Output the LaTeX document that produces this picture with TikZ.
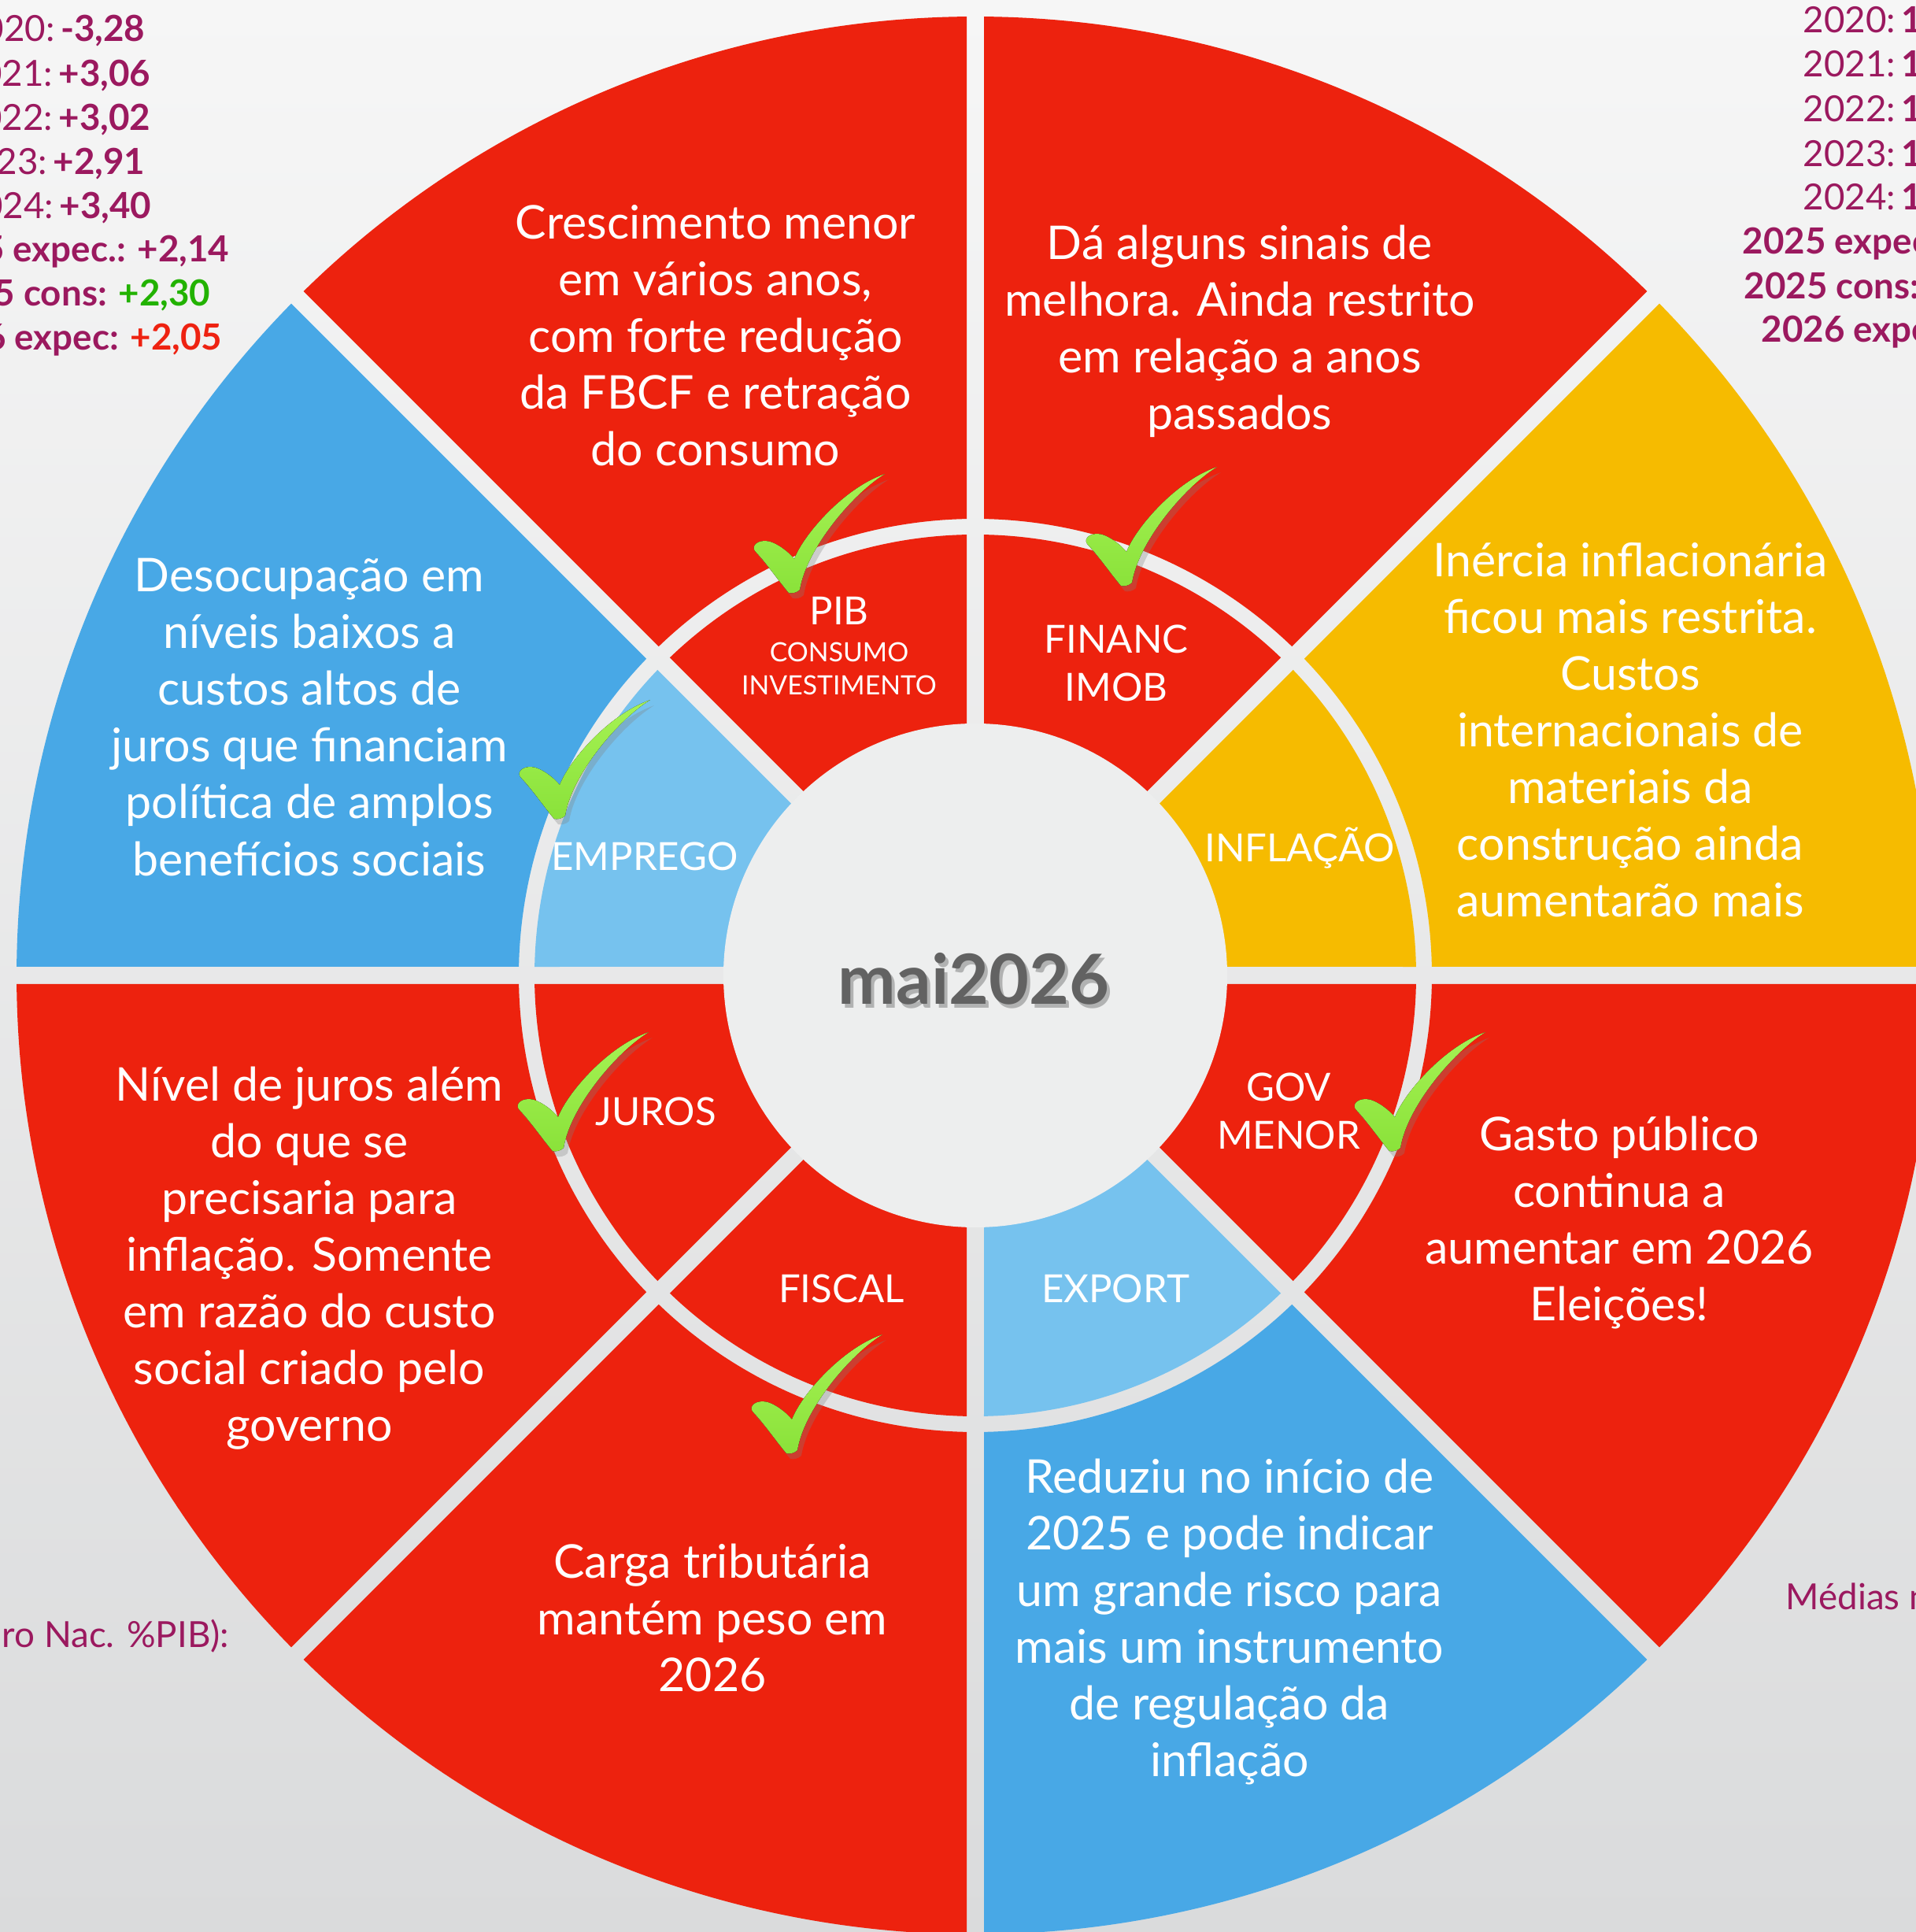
\documentclass[tikz,border=0pt]{standalone}
\usepackage{fontspec}
\setmainfont{Lato}
\usepackage{tikz}
\usetikzlibrary{shadows}
\pgfdeclarelayer{bg}
\pgfsetlayers{bg,main}

\definecolor{wheelred}{RGB}{237,34,14}
\definecolor{wheelblue}{RGB}{72,168,230}
\definecolor{wheelsky}{RGB}{118,194,238}
\definecolor{wheelyellow}{RGB}{246,187,0}
\definecolor{plum}{RGB}{155,25,95}
\definecolor{numgreen}{RGB}{34,178,0}
\definecolor{numred}{RGB}{238,34,17}
\definecolor{yeargray}{RGB}{98,98,98}
\definecolor{hubgray}{RGB}{237,238,238}
\definecolor{tickhi}{RGB}{166,242,84}
\definecolor{ticklo}{RGB}{138,226,58}

\def\halfgap{0.11}
\newcommand\wedgepart[4]{%
  \pgfmathsetmacro\angA{#1+asin(\halfgap/#3)}
  \pgfmathsetmacro\angB{#1+45-asin(\halfgap/#3)}
  \pgfmathsetmacro\angC{#1+45-asin(\halfgap/#2)}
  \pgfmathsetmacro\angD{#1+asin(\halfgap/#2)}
  \fill[#4] (\angA:#3) arc[start angle=\angA, end angle=\angB, radius=#3]
    -- (\angC:#2) arc[start angle=\angC, end angle=\angD, radius=#2] -- cycle;
}

\tikzset{
  bigtxt/.style={text=white, align=center, inner sep=0pt, font=\fontsize{16.8}{20.5}\selectfont},
  midtxt/.style={text=white, align=center, inner sep=0pt, font=\fontsize{14}{17.4}\selectfont},
  smalltxt/.style={text=white, inner sep=0pt, font=\fontsize{9.6}{12}\selectfont},
  sidetxt/.style={text=plum, inner sep=0pt, font=\fontsize{13}{16}\selectfont},
  yeartxt/.style={inner sep=0pt, font=\bfseries\fontsize{25}{30}\selectfont},
  greentick/.pic={
    \fill[x=0.01cm, y=0.01cm, top color=tickhi, bottom color=ticklo,
      drop shadow={shadow xshift=0.5mm, shadow yshift=-0.7mm, opacity=0.3}]
      (0,0) .. controls (-12,14) and (-30,40) .. (-42,52)
      .. controls (-48,58) and (-42,66) .. (-30,66)
      .. controls (-18,66) and (0,52) .. (7,43)
      .. controls (18,72) and (68,132) .. (122,151)
      .. controls (80,125) and (22,55) .. (14,4)
      .. controls (10,0) and (4,-1) .. (0,0) -- cycle;
  }
}

\begin{document}
\begin{tikzpicture}
        \useasboundingbox (0,0) rectangle (24.34,24.54);
        \begin{pgfonlayer}{bg}
                \fill[top color={rgb,255:red,246;green,246;blue,246}, middle color={rgb,255:red,226;green,227;blue,228},
                      bottom color={rgb,255:red,218;green,219;blue,220}] (0,0) rectangle (24.34,24.54);
                \begin{scope}[shift={(12.39cm,12.15cm)}]
                        \foreach \a/\cin/\cout in {0/wheelyellow/wheelyellow, 45/wheelred/wheelred,
                                90/wheelred/wheelred, 135/wheelsky/wheelblue, 180/wheelred/wheelred,
                                225/wheelred/wheelred, 270/wheelsky/wheelblue, 315/wheelred/wheelred}{
                                \wedgepart{\a}{3.1}{5.6}{\cin}
                                \wedgepart{\a}{5.8}{12.18}{\cout}
                        }
                        \fill[hubgray] (0,0) circle (3.2);
                \end{scope}
                \node (yearshade) [yeartxt, text=black, opacity=0.25] at (12.41cm, 12.06cm) {mai2026};
        \end{pgfonlayer}

        \node (crescimento) [bigtxt] at (9.09cm, 20.28cm) {Crescimento menor\\em vários anos,\\com forte redução\\da FBCF e retração\\do consumo};
        \node (sinais) [bigtxt] at (15.75cm, 20.33cm) {Dá alguns sinais de\\melhora. Ainda restrito\\em relação a anos\\passados};
        \node (inercia) [bigtxt] at (20.71cm, 15.27cm) {Inércia inflacionária\\ficou mais restrita.\\Custos\\internacionais de\\materiais da\\construção ainda\\aumentarão mais};
        \node (desocupacao) [bigtxt] at (3.93cm, 15.43cm) {Desocupação em\\níveis baixos a\\custos altos de\\juros que financiam\\política de amplos\\benefícios sociais};
        \node (nivel) [bigtxt] at (3.93cm, 8.56cm) {Nível de juros além\\do que se\\precisaria para\\inflação. Somente\\em razão do custo\\social criado pelo\\governo};
        \node (carga) [bigtxt] at (9.05cm, 3.99cm) {Carga tributária\\mantém peso em\\2026};
        \node (reduziu) [bigtxt] at (15.62cm, 3.94cm) {Reduziu no início de\\2025 e pode indicar\\um grande risco para\\mais um instrumento\\de regulação da\\inflação};
        \node (gasto) [bigtxt] at (20.57cm, 9.01cm) {Gasto público\\continua a\\aumentar em 2026\\Eleições!};

        \node (pib) [midtxt] at (10.66cm, 16.78cm) {PIB};
        \node (consumo) [smalltxt] at (10.66cm, 16.26cm) {CONSUMO};
        \node (investimento) [smalltxt] at (10.66cm, 15.84cm) {INVESTIMENTO};
        \node (financ) [midtxt] at (14.18cm, 16.12cm) {FINANC\\IMOB};
        \node (emprego) [midtxt] at (8.19cm, 13.66cm) {EMPREGO};
        \node (inflacao) [midtxt] at (16.51cm, 13.77cm) {INFLAÇÃO};
        \node (juros) [midtxt] at (8.33cm, 10.42cm) {JUROS};
        \node (gov) [midtxt] at (16.37cm, 10.43cm) {GOV\\MENOR};
        \node (fiscal) [midtxt] at (10.69cm, 8.17cm) {FISCAL};
        \node (export) [midtxt] at (14.17cm, 8.17cm) {EXPORT};

        \node (year) [yeartxt, text=yeargray] at (12.37cm, 12.11cm) {mai2026};

        \node (g20) [sidetxt, anchor=base east] at (1.85cm, 24.01cm) {2020:\,\textbf{-3,28}};
        \node (g21) [sidetxt, anchor=base east] at (1.92cm, 23.44cm) {2021:\,\textbf{+3,06}};
        \node (g22) [sidetxt, anchor=base east] at (1.92cm, 22.88cm) {2022:\,\textbf{+3,02}};
        \node (g23) [sidetxt, anchor=base east] at (1.85cm, 22.32cm) {2023:\,\textbf{+2,91}};
        \node (g24) [sidetxt, anchor=base east] at (1.93cm, 21.76cm) {2024:\,\textbf{+3,40}};
        \node (g25e) [sidetxt, anchor=base east] at (2.92cm, 21.21cm) {\textbf{2025 expec.: +2,14}};
        \node (g25c) [sidetxt, anchor=base east] at (2.68cm, 20.65cm) {\textbf{2025 cons: \textcolor{numgreen}{+2,30}}};
        \node (g26e) [sidetxt, anchor=base east] at (2.83cm, 20.09cm) {\textbf{2026 expec: \textcolor{numred}{+2,05}}};

        \node (s20) [sidetxt, anchor=base west] at (22.90cm, 24.12cm) {2020:\,\textbf{1}};
        \node (s21) [sidetxt, anchor=base west] at (22.90cm, 23.56cm) {2021:\,\textbf{1}};
        \node (s22) [sidetxt, anchor=base west] at (22.90cm, 22.99cm) {2022:\,\textbf{1}};
        \node (s23) [sidetxt, anchor=base west] at (22.90cm, 22.42cm) {2023:\,\textbf{1}};
        \node (s24) [sidetxt, anchor=base west] at (22.90cm, 21.87cm) {2024:\,\textbf{1}};
        \node (s25e) [sidetxt, anchor=base west] at (22.13cm, 21.31cm) {\textbf{2025 expec.:}};
        \node (s25c) [sidetxt, anchor=base west] at (22.15cm, 20.74cm) {\textbf{2025 cons:}};
        \node (s26e) [sidetxt, anchor=base west] at (22.37cm, 20.19cm) {\textbf{2026 expec:}};

        \node (divida) [sidetxt, anchor=base east] at (2.92cm, 3.61cm) {uro Nac. \%PIB):};
        \node (medias) [sidetxt, anchor=base west] at (22.68cm, 4.09cm) {Médias n};

        \pic (tickpib) at (10.02cm, 17.01cm) {greentick};
        \pic (tickimob) at (14.24cm, 17.10cm) {greentick};
        \pic (tickemprego) at (7.04cm, 14.14cm) {greentick};
        \pic (tickjuros) at (7.02cm, 9.92cm) {greentick};
        \pic (tickgov) at (17.65cm, 9.92cm) {greentick};
        \pic (tickfiscal) at (9.99cm, 6.08cm) {greentick};
\end{tikzpicture}
\end{document}
